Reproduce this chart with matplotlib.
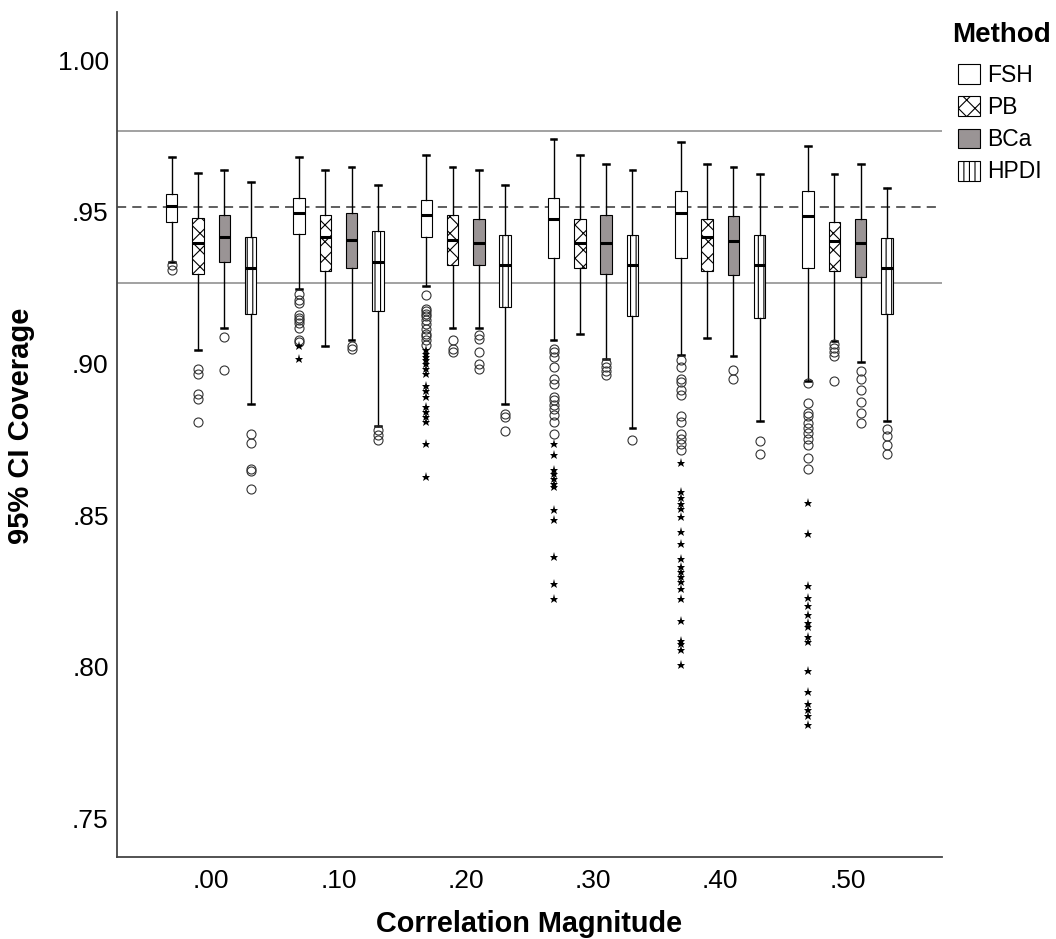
import numpy as np
import matplotlib.pyplot as plt
import matplotlib.transforms as mtransforms
from matplotlib.patches import Patch

plt.rcParams['font.family'] = ['Liberation Sans', 'DejaVu Sans']
plt.rcParams['hatch.linewidth'] = 0.8

# correlation magnitude groups and CI methods
categories = ['.00', '.10', '.20', '.30', '.40', '.50']
methods = ['FSH', 'PB', 'BCa', 'HPDI']

# box statistics, rows = method, cols = category
whis_hi = [[.9663, .9663, .9672, .9723, .9714, .9702],
           [.9612, .9623, .9632, .9672, .9642, .9610],
           [.9623, .9632, .9622, .9642, .9631, .9642],
           [.9582, .9573, .9573, .9622, .9610, .9561]]
q3 = [[.9542, .9531, .9522, .9531, .9552, .9551],
      [.9462, .9472, .9472, .9460, .9460, .9450],
      [.9472, .9481, .9460, .9472, .9469, .9460],
      [.9400, .9422, .9409, .9409, .9409, .9399]]
med = [[.9502, .9481, .9472, .9460, .9481, .9470],
       [.9381, .9401, .9392, .9381, .9400, .9387],
       [.9401, .9391, .9381, .9381, .9387, .9380],
       [.9300, .9320, .9309, .9309, .9308, .9299]]
q1 = [[.9450, .9410, .9400, .9331, .9331, .9297],
      [.9278, .9289, .9309, .9299, .9288, .9288],
      [.9320, .9300, .9309, .9279, .9276, .9268],
      [.9148, .9158, .9169, .9139, .9135, .9147]]
whis_lo = [[.9318, .9228, .9239, .9062, .9011, .8925],
           [.9029, .9040, .9101, .9082, .9068, .9058],
           [.9101, .9062, .9101, .9000, .9007, .8988],
           [.8851, .8777, .8851, .8772, .8793, .8793]]

# outliers (circles)
fsh_circles = [[.9308, .9291],
               [.9212, .9194, .9183, .9143, .9135, .9126, .9117, .9102, .9062, .9056],
               [.9211, .9165, .9157, .9148, .9139, .9126, .9113, .9099, .9082, .9073, .9062, .9044],
               [.9033, .9021, .9005, .8972, .8934, .8917, .8873, .8862, .8846, .8835, .8813, .8790, .8752],
               [.8994, .8972, .8934, .8922, .8895, .8879, .8809, .8790, .8752, .8736, .8719, .8699],
               [.8918, .8854, .8819, .8809, .8787, .8771, .8755, .8736, .8714, .8673, .8635]]
pb_circles = [[.8967, .8950, .8884, .8868, .8790], [], [.9062, .9033, .9021], [], [],
              [.9048, .9035, .9022, .9009, .8927]]
bca_circles = [[.9071, .8961], [.9040, .9031], [.9077, .9063, .9021, .8981, .8967],
               [.8985, .8972, .8959, .8945], [.8961, .8931],
               [.8958, .8933, .8895, .8857, .8819, .8787]]
hpdi_circles = [[.8750, .8721, .8635, .8630, .8571], [.8763, .8747, .8730],
                [.8816, .8807, .8761], [.8730], [.8727, .8685],
                [.8768, .8743, .8715, .8685]]
circles = [fsh_circles, pb_circles, bca_circles, hpdi_circles]

# extreme values (stars), FSH only
fsh_stars = [[], [.9040, .9000],
             [.9029, .9016, .9005, .8994, .8981, .8967, .8950, .8908, .8893, .8873,
              .8840, .8823, .8807, .8790, .8719, .8609],
             [.8719, .8681, .8631, .8620, .8604, .8587, .8576, .8499, .8468, .8347, .8257, .8208],
             [.8655, .8559, .8541, .8521, .8505, .8477, .8427, .8389, .8340, .8312,
              .8295, .8279, .8262, .8241, .8208, .8136, .8068, .8057, .8040, .7990],
             [.8524, .8423, .8250, .8210, .8184, .8153, .8127, .8115, .8083, .8064,
              .7968, .7899, .7860, .7842, .7822, .7791]]

facecolors = ['white', 'white', '#9a9495', 'white']
hatches = [None, 'xx', None, '|||']
offsets = [-0.31, -0.103, 0.103, 0.31]

fig = plt.figure(figsize=(10.56, 9.39), dpi=100)
ax = fig.add_axes([0.1108, 0.0876, 0.781, 0.9])

# reference lines
ax.axhline(0.975, color='#9a9a9a', lw=1.3, zorder=1)
ax.axhline(0.925, color='#9a9a9a', lw=1.3, zorder=1)
ax.axhline(0.95, color='#333333', lw=1.1, dashes=(6, 4), zorder=1)

x = np.arange(len(categories))
for m in range(len(methods)):
    stats = []
    for c in range(len(categories)):
        stats.append(dict(med=med[m][c], q1=q1[m][c], q3=q3[m][c],
                          whislo=whis_lo[m][c], whishi=whis_hi[m][c],
                          fliers=circles[m][c]))
    ax.bxp(stats, positions=x + offsets[m], widths=0.09, patch_artist=True,
           manage_ticks=False, capwidths=0.045,
           boxprops=dict(facecolor=facecolors[m], edgecolor='black',
                         hatch=hatches[m], lw=0.8),
           medianprops=dict(color='black', lw=2.2),
           whiskerprops=dict(color='black', lw=1.0),
           capprops=dict(color='black', lw=1.8),
           flierprops=dict(marker='o', mfc='none', mec='#333333', ms=6.5, mew=0.8))

for c in range(len(categories)):
    s = fsh_stars[c]
    ax.plot(np.full(len(s), x[c] + offsets[0]), s, ls='none', marker='*',
            color='black', ms=6.5, mew=0)

ax.set_xlim(-0.74, 5.74)
ax.set_ylim(0.7357, 1.0144)
ax.set_xticks(x)
ax.set_xticklabels(categories, fontsize=19)
yt = [0.75, 0.80, 0.85, 0.90, 0.95, 1.00]
ax.set_yticks(yt)
ax.set_yticklabels(['.75', '.80', '.85', '.90', '.95', '1.00'], fontsize=19)
ax.tick_params(length=0, pad=6)
ax.tick_params(axis='x', pad=9)
shift = mtransforms.ScaledTranslation(0, -5 / 100, fig.dpi_scale_trans)
for lbl in ax.get_yticklabels():
    lbl.set_transform(lbl.get_transform() + shift)

for side in ['top', 'right']:
    ax.spines[side].set_visible(False)
for side in ['left', 'bottom']:
    ax.spines[side].set_color('#444444')
    ax.spines[side].set_linewidth(1.3)

ax.set_xlabel('Correlation Magnitude', fontsize=20.8, fontweight='bold', labelpad=12)
ax.set_ylabel('95% CI Coverage', fontsize=21, fontweight='bold')
ax.yaxis.set_label_coords(-0.099, 0.51)

handles = [Patch(facecolor=facecolors[m], edgecolor='black', hatch=hatches[m], lw=0.8)
           for m in range(len(methods))]
fig.text(952 / 1056, 1 - 35 / 939, 'Method', fontsize=20, fontweight='bold',
         ha='left', va='center')
fig.legend(handles, methods, loc='upper left',
           bbox_to_anchor=(958 / 1056, 1 - 64 / 939), frameon=False, fontsize=16.5,
           handlelength=0.95, handleheight=0.95, handletextpad=0.3,
           labelspacing=0.4, borderpad=0, borderaxespad=0)

fig.savefig('out.png', dpi=100)
